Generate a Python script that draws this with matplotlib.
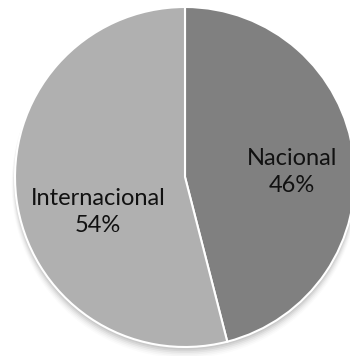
import matplotlib.pyplot as plt
from matplotlib.patches import Circle
import numpy as np

labels = ["Nacional", "Internacional"]
values = [46, 54]
colors = ["#808080", "#b0b0b0"]

fig = plt.figure(figsize=(3.5, 3.56), dpi=100)
ax = fig.add_axes([0, 0, 1, 1])

# soft shadow under the pie
for i, a in enumerate(np.linspace(0.06, 0.015, 6)):
    ax.add_patch(Circle((0.0, -0.015 - i * 0.006), 1.0 + i * 0.004,
                        color="black", alpha=a, lw=0, zorder=0))

wedges, _ = ax.pie(values, colors=colors, startangle=90, counterclock=False,
                   wedgeprops=dict(edgecolor="white", linewidth=1.5))
for w in wedges:
    w.set_zorder(2)

font = ["Lato", "DejaVu Sans"]
ax.text(0.63, 0.03, "Nacional\n46%", ha="center", va="center", fontsize=17,
        family=font, color="#111111", linespacing=1.35, zorder=3)
ax.text(-0.51, -0.206, "Internacional\n54%", ha="center", va="center", fontsize=17,
        family=font, color="#111111", linespacing=1.35, zorder=3)

ax.set_xlim(-185 / 170, 165 / 170)
ax.set_ylim(-179 / 170, 177 / 170)
ax.set_aspect("auto")
ax.axis("off")

fig.savefig("out.png", dpi=100)
